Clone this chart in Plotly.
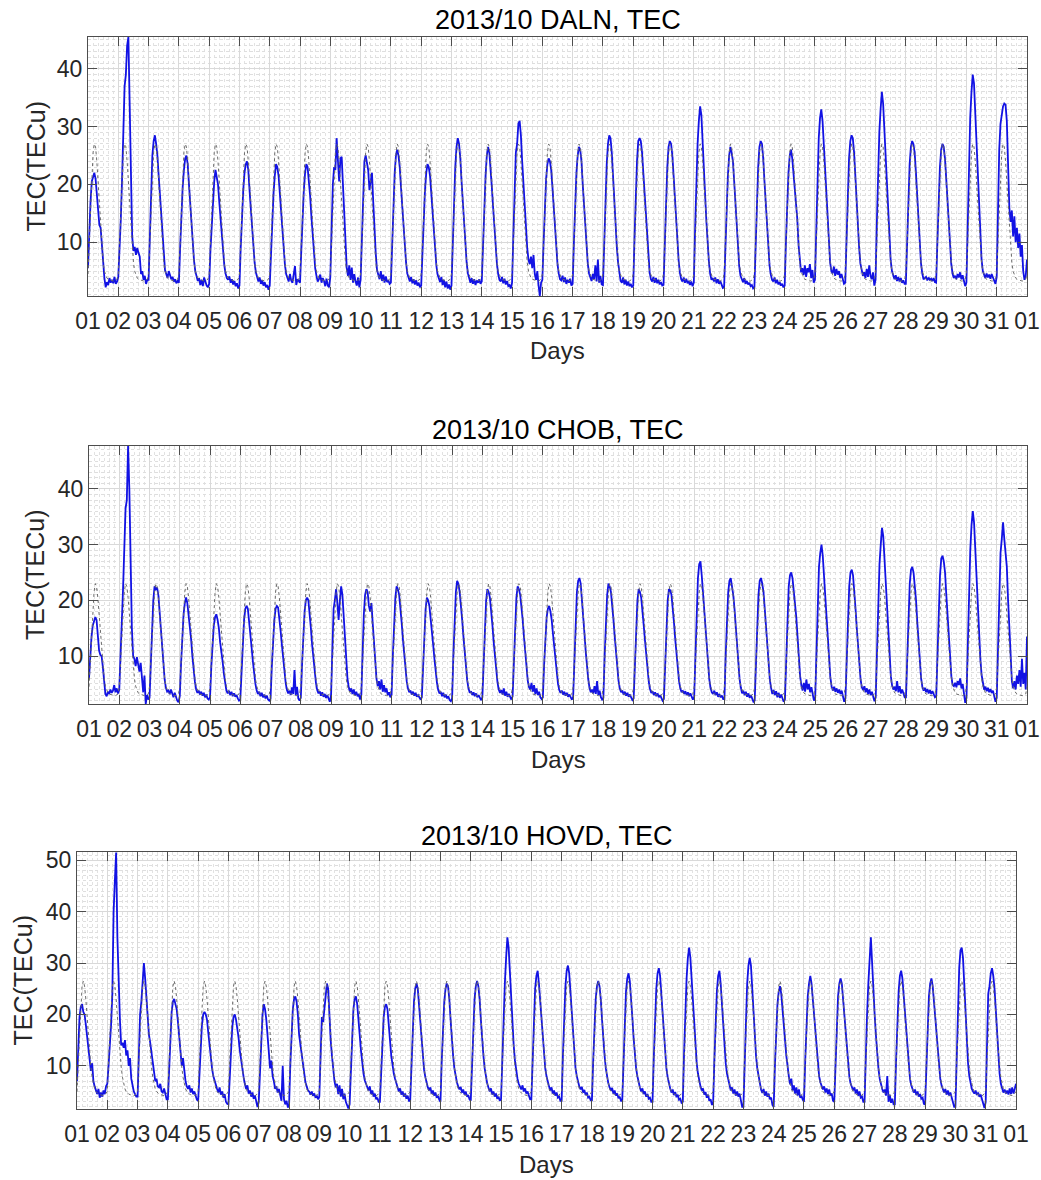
import plotly.graph_objects as go

# ---------------- data (hourly values) ----------------
TICK_LABELS = ["01", "02", "03", "04", "05", "06", "07", "08", "09", "10",
               "11", "12", "13", "14", "15", "16", "17", "18", "19", "20",
               "21", "22", "23", "24", "25", "26", "27", "28", "29", "30",
               "31", "01"]
TICK_POS = list(range(1, 33))

DALN_TEC = [
    [5.5, 12, 17, 20.5, 21.5, 22, 21, 18, 14.5, 13, 12.5, 9, 5.5, 3.8, 2.2, 3.1, 2.6, 3.8, 3.0, 3.5, 2.9, 4.0, 2.8, 3.2],
    [4, 8, 14, 21, 29, 37, 39, 44, 45.5, 32, 19, 11, 8.5, 9.2, 7.8, 9.0, 8.2, 7.5, 4.5, 5.0, 3.5, 4.2, 2.8, 3.5],
    [3.5, 11, 19, 25, 27.5, 28.5, 27, 25, 21.5, 18, 14, 10.5, 7.5, 5.2, 4.5, 3.8, 5.0, 4.2, 3.6, 4.0, 3.2, 3.6, 2.9, 3.3],
    [3.0, 9, 15, 19.5, 22.5, 24.5, 25, 23.5, 20, 16.5, 12.5, 9.5, 6.8, 5.0, 4.0, 3.3, 3.8, 2.6, 3.5, 2.4, 3.9, 3.0, 2.5, 2.2],
    [2.8, 8.5, 13.5, 17.5, 20.5, 22.5, 21.5, 20, 17, 14, 11, 8.2, 6, 4.6, 3.8, 3.5, 4.1, 3.0, 3.6, 2.7, 3.3, 2.4, 2.9, 2.0],
    [2.5, 9, 14.5, 19, 22, 23.5, 24, 22.5, 19, 15.5, 12, 9, 6.5, 4.8, 3.8, 3.2, 3.9, 2.8, 3.4, 2.5, 3.1, 2.2, 2.6, 1.8],
    [2.5, 8.5, 14, 18.5, 21.5, 23.5, 23, 21.5, 18.5, 15, 11.5, 8.5, 6.2, 4.5, 3.6, 3.2, 4.5, 3.4, 3.0, 4.2, 5.9, 2.6, 3.6, 3.3],
    [3.0, 8.5, 14.5, 19, 22, 23.5, 23, 21, 18, 14.5, 11, 8, 5.5, 4.2, 3.2, 3.6, 4.4, 3.0, 3.8, 3.3, 2.4, 3.7, 2.5, 2.2],
    [4, 12, 20, 23, 22.5, 28, 25, 20.5, 24.5, 24.8, 20, 14, 9, 5.5, 4.2, 6.0, 3.5, 5.6, 3.0, 4.5, 3.2, 2.5, 3.9, 2.2],
    [3.5, 12, 19, 24, 25, 24, 22.5, 19, 21, 22, 17, 12, 8, 5.2, 4.4, 3.6, 5.0, 3.3, 4.4, 3.0, 4.1, 3.1, 3.4, 2.8],
    [3.0, 10, 17, 22, 25, 26, 25, 23, 19.5, 16, 12.5, 9, 6.5, 4.6, 3.7, 3.2, 4.0, 2.9, 3.6, 2.7, 3.4, 2.5, 3.0, 2.2],
    [2.5, 8.5, 14.5, 19, 22, 23.5, 23, 21.5, 18.5, 15, 11.5, 8.5, 6, 4.4, 3.6, 3.1, 4.0, 2.6, 3.5, 2.2, 3.2, 2.0, 2.7, 1.8],
    [2.5, 10, 17.5, 23, 26.5, 28, 27, 24.5, 20.5, 16.5, 12.5, 9, 6.5, 4.6, 3.5, 3.0, 3.8, 2.8, 3.6, 2.6, 3.4, 3.0, 3.6, 2.8],
    [3.2, 10, 16.5, 21.5, 25, 26.5, 25.5, 23, 19.5, 16, 12, 8.8, 6.3, 4.5, 3.5, 3.2, 4.0, 2.9, 3.7, 2.7, 3.3, 2.4, 2.6, 2.0],
    [3.0, 11, 19, 25.5, 27, 30.5, 31, 28.5, 24, 20, 18, 13, 9, 7.0, 6.2, 7.5, 5.5, 7.8, 4.5, 3.5, 5.0, 2.5, 0.7, 3.0],
    [3.5, 10, 16, 21, 23.5, 24.5, 24, 22.5, 19.5, 16, 12, 8.8, 6.2, 4.6, 3.6, 3.4, 4.2, 3.1, 3.9, 2.8, 3.5, 3.0, 3.7, 2.5],
    [2.8, 10, 17, 22, 25, 26.5, 26, 24, 20, 16.5, 12.5, 9, 6.3, 4.6, 3.7, 3.3, 4.5, 3.6, 6.0, 3.2, 7.0, 3.0, 4.2, 2.7],
    [2.6, 10.5, 18, 23.5, 27, 28.5, 28, 25.5, 21.5, 17, 13, 9.2, 6.5, 4.5, 3.3, 3.0, 3.9, 2.7, 3.5, 2.5, 3.2, 2.4, 2.8, 2.2],
    [2.5, 10.5, 18.5, 24, 27.5, 28, 27.5, 25.5, 22, 18.5, 14, 10, 7, 4.8, 3.6, 3.2, 4.0, 3.0, 3.8, 2.9, 3.5, 2.7, 3.1, 2.5],
    [2.6, 10, 17.5, 23, 26.5, 27.5, 27, 25, 21.5, 17.5, 13.5, 9.5, 6.8, 4.7, 3.6, 3.2, 3.9, 3.0, 3.7, 2.9, 3.3, 2.6, 3.2, 2.4],
    [3.0, 12, 21, 27, 31, 33.5, 32, 28, 23, 18, 13.5, 9.5, 6.5, 4.5, 3.5, 3.8, 3.2, 3.9, 2.9, 3.6, 2.8, 3.3, 2.5, 2.1],
    [2.2, 9.5, 16.5, 21.5, 25, 26.5, 25.5, 24, 20.5, 16.5, 12, 8.5, 5.8, 4.2, 3.6, 3.1, 3.8, 2.8, 3.3, 2.7, 3.0, 2.4, 2.6, 2.0],
    [2.2, 10, 17.5, 23, 26.5, 27.5, 27, 24.5, 20.5, 16.5, 12.5, 8.8, 6.0, 4.4, 3.5, 3.2, 3.9, 2.9, 3.5, 2.7, 3.1, 2.5, 2.8, 2.2],
    [2.5, 10, 17, 22, 25, 26, 24.5, 22, 19, 17, 14, 9.5, 6.5, 4.8, 5.5, 4.3, 6.0, 4.0, 5.5, 4.8, 6.2, 3.8, 5.2, 3.0],
    [3.5, 13, 22, 28, 31.5, 33, 31, 27, 22.5, 18, 13.5, 9.5, 6.5, 5.0, 4.6, 5.8, 4.2, 5.4, 4.4, 5.0, 3.8, 4.5, 3.4, 2.8],
    [3.0, 11, 19, 24.5, 27.5, 28.5, 28, 25.5, 21.5, 17, 13, 9, 6.3, 4.8, 4.2, 4.8, 3.8, 5.4, 4.0, 6.0, 4.2, 3.6, 4.8, 2.5],
    [3.5, 13, 23, 29, 33, 36, 34, 29.5, 24, 19, 14, 9.8, 6.8, 5.0, 4.0, 3.6, 4.3, 3.3, 4.0, 3.2, 3.8, 3.0, 3.4, 2.8],
    [2.8, 10.5, 18, 23.5, 26.5, 27.5, 27, 25.5, 22, 18, 13.5, 9.3, 6.4, 4.6, 3.6, 3.8, 4.0, 3.4, 3.9, 3.5, 3.7, 3.3, 3.8, 3.1],
    [3.0, 10, 17.5, 23, 26, 27, 26.5, 24.5, 21, 17, 13, 9, 6.2, 4.6, 3.8, 4.2, 3.6, 4.5, 3.9, 4.8, 3.6, 4.3, 3.2, 2.4],
    [3.0, 13, 24, 31.5, 36, 39, 37.5, 32, 26, 20.5, 15, 10.5, 7, 5.0, 4.2, 3.8, 4.6, 3.9, 4.4, 3.7, 4.5, 4.0, 3.5, 2.8],
    [4, 15, 26, 30.5, 32.5, 33.5, 34, 33.8, 31, 24, 16, 13.5, 15.5, 11, 14.5, 10, 12.5, 9, 11.5, 7.5, 9.5, 5, 3.5, 4.2],
]
DALN_END = 7.0
DALN_REF_DAY = [4.5, 10, 16, 21.5, 25.5, 27, 26.5, 24, 20.5, 16.5, 12.5, 9, 6.5, 5, 4.2, 3.8, 3.6, 3.5, 3.4, 3.4, 3.3, 3.3, 3.4, 3.6]

CHOB_TEC = [
    [6, 10, 13.5, 15.5, 16.5, 17, 16.5, 14, 11, 10.2, 10, 8, 5, 3.2, 2.8, 3.6, 3.2, 4.0, 3.4, 3.8, 4.8, 3.5, 4.2, 3.3],
    [4, 9, 16, 22, 28, 36.5, 38, 47.7, 40, 27, 15, 10, 9.5, 8.2, 9.8, 8.5, 7.2, 8.8, 5.5, 3.5, 6.5, 1.4, 3.0, 2.2],
    [2.5, 9, 15.5, 20, 22.5, 22, 22.3, 21, 18, 14.5, 11, 8.2, 5.8, 4.3, 3.6, 3.8, 3.2, 4.0, 3.0, 2.6, 3.4, 2.4, 2.0, 1.7],
    [2.8, 8.5, 13.5, 17.5, 19.5, 20.5, 19.5, 17.5, 16, 13, 10, 7.5, 5.4, 4.0, 3.4, 3.8, 3.1, 3.6, 2.9, 3.4, 2.6, 3.1, 2.4, 2.2],
    [2.6, 8, 12.5, 15.5, 17, 17.5, 16.5, 15, 12.5, 11, 9, 6.8, 5.0, 3.8, 3.3, 3.8, 3.0, 3.6, 2.8, 3.3, 2.7, 3.0, 2.4, 2.0],
    [2.2, 8, 13, 16.5, 18.5, 19, 18.5, 16.5, 14, 11.5, 9, 6.8, 5.0, 3.8, 3.2, 3.6, 2.8, 3.4, 2.6, 3.1, 2.4, 2.9, 2.2, 2.0],
    [2.3, 8, 13, 16.5, 18.5, 19, 18.7, 17, 14.5, 12, 9.3, 7, 5.2, 3.9, 3.3, 3.8, 3.0, 4.4, 3.2, 7.5, 3.0, 4.5, 2.4, 2.0],
    [2.5, 8.5, 14, 18, 20, 20.5, 20, 18, 15, 12, 9.5, 7, 5.2, 3.9, 3.3, 3.7, 2.9, 3.5, 2.7, 3.2, 2.5, 3.0, 2.2, 1.8],
    [3, 12, 18.5, 20, 22, 19.5, 16.5, 20, 22.5, 21, 17, 13, 9, 6, 4.4, 3.6, 4.2, 3.2, 4.0, 3.0, 3.6, 2.8, 3.2, 2.2],
    [3, 11, 17.5, 21, 22, 21.5, 19, 18, 19.5, 16, 12, 8.5, 6, 4.6, 5.5, 4.0, 5.8, 3.6, 4.8, 3.5, 4.2, 3.0, 3.5, 2.6],
    [3, 10, 16.5, 20.5, 22.5, 22, 21, 19, 16, 13, 10, 7.5, 5.5, 4.2, 3.5, 3.8, 3.1, 3.6, 2.9, 3.4, 2.7, 3.0, 2.5, 2.2],
    [2.6, 9, 14.5, 18.5, 20.5, 20, 19, 17, 14.5, 12, 9.5, 7, 5.2, 3.9, 3.3, 3.6, 2.8, 3.4, 2.6, 3.1, 2.4, 2.8, 2.1, 1.9],
    [2.4, 10, 17, 21.5, 23.5, 23, 21.5, 19.5, 16.5, 13.5, 10.5, 7.8, 5.6, 4.2, 3.4, 3.7, 3.0, 3.5, 2.8, 3.3, 2.6, 3.0, 2.4, 2.1],
    [2.6, 9.5, 16, 20, 22, 21.5, 20.5, 18.5, 15.5, 12.5, 9.8, 7.2, 5.3, 4.0, 3.4, 3.9, 3.1, 4.2, 2.9, 3.6, 2.7, 3.2, 2.5, 2.2],
    [2.8, 10, 16.5, 20.5, 22.5, 22, 21, 19, 16.5, 13.5, 10.5, 7.6, 5.6, 4.4, 4.0, 5.2, 3.6, 4.8, 3.2, 4.2, 3.0, 3.6, 2.6, 2.3],
    [2.6, 8.5, 14, 17, 18.5, 19, 18, 16.5, 14, 11.5, 9, 6.8, 5.0, 3.9, 3.4, 3.8, 3.1, 3.6, 2.9, 3.4, 2.7, 3.1, 2.5, 2.2],
    [2.6, 10, 17, 21.5, 23.5, 24, 23, 20.5, 17, 14, 10.8, 8, 5.8, 4.3, 3.5, 4.0, 3.3, 4.6, 3.2, 5.5, 3.0, 3.8, 2.6, 2.2],
    [2.5, 10, 16.5, 21, 23, 22.5, 21.5, 19.5, 16.5, 13.5, 10.5, 7.7, 5.6, 4.2, 3.5, 3.8, 3.1, 3.6, 2.9, 3.4, 2.7, 3.1, 2.5, 2.1],
    [2.4, 9.5, 16, 20, 22, 21.5, 20.5, 18.5, 15.5, 12.8, 10, 7.4, 5.4, 4.1, 3.4, 3.7, 3.0, 3.5, 2.8, 3.3, 2.6, 3.0, 2.4, 2.0],
    [2.3, 9.5, 16, 20, 22, 21.8, 21, 19, 16, 13, 10.2, 7.5, 5.5, 4.2, 3.5, 3.8, 3.2, 3.7, 3.0, 3.5, 2.8, 3.3, 2.6, 2.2],
    [2.6, 11, 19, 24, 26.5, 27, 24.5, 21.5, 18, 14.5, 11, 8, 5.8, 4.3, 3.5, 3.2, 3.8, 3.0, 3.5, 2.7, 3.2, 2.6, 2.9, 2.3],
    [2.3, 10, 17, 21.5, 23.5, 24, 22.5, 21, 18.5, 15, 11.5, 8.3, 5.9, 4.4, 3.3, 3.8, 3.0, 3.6, 2.7, 3.3, 2.5, 3.0, 2.2, 1.8],
    [2.0, 9.5, 16.5, 21, 23.5, 24, 23, 21.5, 18.5, 15, 11.5, 8.3, 5.8, 4.3, 3.2, 3.9, 3.0, 3.7, 2.6, 3.4, 2.5, 3.1, 2.2, 1.8],
    [2.2, 10, 17.5, 22.5, 24.5, 25, 24, 22, 19, 17, 13.5, 9.5, 6.5, 4.8, 3.8, 5.2, 3.6, 5.8, 4.0, 5.0, 3.5, 4.4, 3.0, 2.0],
    [2.5, 12, 20.5, 26, 28.5, 30, 28, 24.5, 20.5, 16.5, 12.5, 9, 6.2, 4.6, 3.8, 4.5, 3.6, 4.2, 3.4, 4.0, 3.2, 3.8, 2.8, 1.8],
    [2.4, 10.5, 18, 22.5, 25, 25.5, 24.5, 22, 18.5, 15, 11.5, 8.3, 5.8, 4.4, 3.9, 4.6, 3.5, 4.2, 3.2, 4.0, 3.0, 3.6, 2.5, 1.9],
    [2.6, 12, 21, 26.5, 30, 33, 31.5, 27, 22, 17.5, 13, 9.2, 6.4, 4.7, 4.0, 4.5, 3.7, 5.5, 3.5, 4.6, 3.3, 4.0, 3.0, 2.6],
    [2.6, 10.5, 18, 23, 25.5, 26, 25, 23, 20, 16, 12, 8.6, 6, 4.5, 3.8, 4.3, 3.5, 4.1, 3.3, 3.9, 3.2, 3.7, 3.0, 2.6],
    [2.8, 11.5, 19.5, 24.5, 27.5, 28, 27, 25, 21, 17, 13, 9.2, 6.4, 4.8, 4.6, 5.2, 4.4, 5.5, 4.8, 6.0, 4.2, 5.0, 3.0, 1.6],
    [2.5, 12.5, 22.5, 29, 33.5, 36, 34, 29, 23.5, 18.5, 13.5, 9.5, 6.6, 4.8, 4.0, 4.5, 3.7, 4.3, 3.5, 4.1, 3.4, 3.8, 2.6, 1.8],
    [2.5, 13, 24, 28.5, 31, 34, 31, 28, 26, 20, 14, 9, 5.5, 4.2, 5.5, 4.0, 6.5, 5.0, 7.5, 4.5, 9.5, 5.0, 7.0, 4.0],
]
CHOB_END = 13.5
CHOB_REF_DAY = [4.5, 9, 14, 18.5, 21.5, 23, 22.5, 20.5, 17.5, 14.5, 11, 8.2, 6, 4.6, 3.8, 3.4, 3.2, 3.1, 3.0, 3.0, 2.9, 2.9, 3.0, 3.2]

HOVD_TEC = [
    [7, 14, 19.5, 21.5, 22, 20.5, 20, 18, 15.5, 13, 11, 9, 10.5, 7, 6, 5.2, 4.5, 5.5, 3.8, 4.8, 4.0, 5.2, 4.5, 6.0],
    [6.5, 10, 13.5, 18, 24, 40, 46, 51.5, 35, 24, 19, 14, 14.5, 13.5, 15, 12, 13, 10, 11.5, 7.5, 6, 5, 4.5, 4.0],
    [4, 12, 20, 22.5, 27, 30, 27, 23, 19.5, 16, 14.5, 12.5, 10, 8, 7, 7.5, 6, 5.8, 6.5, 5, 4.8, 5.6, 4.2, 3.5],
    [3.5, 10, 16.5, 20.5, 22.5, 23, 22, 21, 18.5, 15.5, 12.5, 10, 11.5, 8.5, 7, 6, 5.5, 6.2, 4.8, 5.6, 4.5, 5.0, 4.0, 3.4],
    [3.2, 9, 14.5, 18, 20, 20.5, 20, 19, 16.5, 14, 11.5, 9.5, 8, 7, 6.2, 5.5, 4.8, 5.8, 4.4, 5.0, 3.8, 4.5, 3.0, 2.6],
    [2.5, 8.5, 14, 17.5, 19.5, 20, 19, 17.5, 15.5, 13, 11, 9, 7.8, 6.5, 5.5, 6.2, 4.6, 5.2, 4.0, 4.8, 3.6, 4.2, 3.0, 2.0],
    [3.0, 10, 16, 20, 22, 21, 19, 16, 12, 9.5, 11, 8, 7, 5.5, 6, 4.8, 5.5, 4.5, 3.2, 10, 3.5, 2.5, 3.2, 2.0],
    [2.0, 10, 17, 21, 23, 23.5, 22.5, 20, 16, 14, 12, 10, 8, 6.8, 6, 5.2, 5.0, 4.4, 5.0, 4.2, 4.6, 3.8, 4.2, 3.5],
    [4, 13, 19.5, 18.5, 21, 24, 26, 25, 18, 15, 12, 8.5, 7, 5.8, 6.5, 4.5, 6.2, 4.0, 5.5, 3.5, 4.6, 3.0, 2.2, 1.7],
    [2.5, 10, 16.5, 21, 23, 23.5, 22, 19.5, 16, 13, 10.5, 8.5, 7.2, 6.4, 5.8, 5.2, 6, 4.5, 5.2, 4.0, 4.6, 3.5, 3.8, 3.0],
    [3.0, 9.5, 15.5, 19.5, 21.5, 22, 21, 18.5, 15, 12, 10, 8.5, 7.5, 6.5, 5.8, 5.0, 5.6, 4.4, 5.0, 4.0, 4.6, 3.6, 4.2, 3.2],
    [3.2, 11, 18, 22.5, 25, 26, 25, 22, 18, 14.5, 11.5, 9.2, 7.8, 6.5, 5.8, 5.2, 5.8, 4.6, 5.2, 4.2, 4.8, 3.8, 4.2, 3.4],
    [3.0, 11, 18, 22.5, 25, 26, 25.5, 23, 19, 15, 12, 9.5, 8, 6.8, 6, 5.4, 5.9, 4.8, 5.4, 4.4, 5.0, 4.0, 4.3, 3.5],
    [3.2, 11, 18.5, 23, 25.5, 26.5, 25.5, 23, 19, 15, 12, 9.5, 7.8, 6.6, 5.8, 5.0, 5.6, 4.4, 5.0, 4.0, 4.6, 3.6, 4.0, 3.2],
    [3.5, 12, 20, 26, 31, 35, 33, 28, 23, 18, 14, 11, 9, 7.5, 6.5, 6.0, 5.4, 6.2, 5.0, 5.6, 4.6, 5.0, 4.0, 3.5],
    [3.5, 12, 20, 25, 27.5, 28.5, 26, 22.5, 18.5, 15, 12, 9.5, 8, 6.8, 6, 5.2, 5.8, 4.6, 5.2, 4.2, 4.8, 3.8, 4.0, 3.2],
    [3.2, 12, 20, 25.5, 28.5, 29.5, 28, 24, 19.5, 15.5, 12, 9.5, 8, 6.8, 6, 5.4, 5.9, 4.8, 5.3, 4.3, 4.8, 3.8, 4.0, 3.3],
    [3.3, 11, 18.5, 23, 25.5, 26.5, 25.5, 23, 19, 15, 12, 9.5, 7.8, 6.6, 5.8, 5.2, 5.7, 4.6, 5.2, 4.2, 4.6, 3.7, 4.0, 3.2],
    [3.2, 11.5, 19.5, 24.5, 27, 28, 26.5, 23.5, 19.5, 15.5, 12, 9.5, 8, 6.6, 5.8, 5.0, 5.6, 4.5, 5.0, 4.0, 4.5, 3.6, 3.8, 3.0],
    [3.0, 11.5, 19.5, 25, 28, 29, 27.5, 24, 19.5, 15.5, 12, 9.5, 7.8, 6.5, 5.6, 4.8, 5.4, 4.3, 4.9, 3.9, 4.4, 3.4, 3.6, 2.8],
    [3.0, 12.5, 21, 27, 31, 33, 31, 27, 22, 17.5, 13.5, 10.5, 8.5, 7, 6, 5.2, 5.6, 4.4, 4.9, 3.8, 4.4, 3.2, 3.5, 2.5],
    [2.5, 11, 19, 24.5, 27.5, 28.5, 26, 21.5, 17, 13.5, 10.5, 8.5, 7.5, 6, 5.2, 5.8, 4.6, 5.4, 4.2, 5.0, 4.0, 4.6, 3.4, 2.0],
    [2.0, 11.5, 20, 26, 29.5, 31, 29.5, 25, 20, 15.5, 12, 9.5, 8, 6.4, 5.4, 4.7, 5.5, 4.2, 5.0, 4.0, 4.6, 3.5, 3.8, 2.4],
    [2.0, 10, 17, 22, 24.5, 25.5, 24, 21.5, 18, 15, 12, 9.5, 8, 6.4, 7.5, 5.2, 6.2, 4.6, 5.8, 4.2, 5.4, 3.8, 4.2, 3.4],
    [3.0, 11, 18.5, 23.5, 26, 27.5, 26, 23, 19.5, 17, 13, 10, 8, 6.8, 6, 5.4, 6.0, 4.8, 5.6, 4.5, 5.4, 4.2, 4.6, 3.2],
    [3.0, 11, 18.5, 23.5, 26, 27, 26, 23, 19, 16.5, 12.5, 9.6, 7.8, 6.5, 5.8, 5.2, 5.8, 4.6, 5.4, 4.2, 5.0, 3.8, 4.0, 3.0],
    [3.0, 13, 20, 26, 32, 35, 30, 24, 20, 16, 12, 9.5, 7.5, 6.2, 5.5, 4.8, 5.4, 4.2, 8.0, 3.0, 4.4, 2.8, 3.6, 2.5],
    [2.5, 11, 19, 24.5, 27.5, 28.5, 27, 23.5, 19.5, 16, 12.5, 9.5, 7.5, 6.2, 5.4, 4.8, 5.4, 4.3, 5.0, 4.0, 4.5, 3.6, 3.8, 2.6],
    [2.5, 10.5, 18, 23.5, 26, 27, 25.5, 22.5, 19, 16, 12.5, 9.5, 7.5, 6.2, 5.5, 4.8, 5.5, 4.4, 5.2, 4.2, 4.8, 3.8, 3.0, 2.0],
    [2.0, 13, 22, 29, 32.5, 33, 31, 26, 20, 14.5, 10.5, 8, 6.5, 5.5, 5.0, 4.6, 5.2, 4.3, 4.8, 4.0, 4.4, 3.5, 2.8, 1.8],
    [3.0, 14, 24, 25.5, 28, 29, 27.5, 25, 20.5, 15.5, 11.5, 8.5, 6.5, 5.5, 4.8, 5.4, 4.6, 5.2, 4.4, 5.6, 4.5, 5.8, 4.6, 5.5],
]
HOVD_END = 6.5
HOVD_REF_DAY = [5, 11, 17, 22, 25.5, 26.5, 25.5, 23, 19.5, 16, 12.5, 9.8, 7.8, 6.4, 5.5, 5.0, 4.7, 4.5, 4.4, 4.3, 4.2, 4.2, 4.3, 4.6]

STATIONS = ["DALN", "CHOB", "HOVD"]
Y_TICKS = [[10, 20, 30, 40], [10, 20, 30, 40], [10, 20, 30, 40, 50]]
Y_RANGES = [[0.7, 45.5], [1.4, 47.7], [1.6, 51.6]]

# ---------------- build series ----------------
for days in (DALN_TEC, CHOB_TEC, HOVD_TEC):
    assert len(days) == 31 and all(len(d) == 24 for d in days)

X_TIME = [d + h / 24 for d in range(1, 32) for h in range(24)] + [32.0]


def obs_series(days, end):
    return [v for day in days for v in day] + [end]


def ref_series(profile):
    return profile * 31 + [profile[0]]


OBS = [obs_series(DALN_TEC, DALN_END), obs_series(CHOB_TEC, CHOB_END), obs_series(HOVD_TEC, HOVD_END)]
REF = [ref_series(DALN_REF_DAY), ref_series(CHOB_REF_DAY), ref_series(HOVD_REF_DAY)]

# ---------------- layout geometry (pixels) ----------------
W, H = 1041, 1180
FONT = "Liberation Sans, Arial, Helvetica, sans-serif"
PLOT_PX = [  # left, right, top, bottom
    (88, 1027, 37, 296),
    (89, 1027, 446, 704),
    (77, 1016, 852, 1109),
]
TITLE_Y = [20, 430, 836]
XLABEL_Y = [351, 760, 1164]
YLABEL_X = [35, 35, 22]

BLUE = "rgb(18,18,228)"
REFC = "#6a6a6a"
AXC = "#4d4d4d"

fig = go.Figure()
annotations = []
layout = dict(
    width=W, height=H, autosize=False,
    margin=dict(l=0, r=0, t=0, b=0, pad=0),
    paper_bgcolor="white", plot_bgcolor="white",
    showlegend=False,
    font=dict(family=FONT, color="#262626"),
)

for i, st in enumerate(STATIONS):
    xa = "x" if i == 0 else f"x{i + 1}"
    ya = "y" if i == 0 else f"y{i + 1}"
    xkey = "xaxis" if i == 0 else f"xaxis{i + 1}"
    ykey = "yaxis" if i == 0 else f"yaxis{i + 1}"
    l, r, t, b = PLOT_PX[i]

    fig.add_trace(go.Scatter(x=X_TIME, y=OBS[i], mode="lines", xaxis=xa, yaxis=ya,
                             line=dict(color=BLUE, width=1.8), hoverinfo="skip"))
    fig.add_trace(go.Scatter(x=X_TIME, y=REF[i], mode="lines", xaxis=xa, yaxis=ya,
                             line=dict(color=REFC, width=1, dash="dot"), hoverinfo="skip"))

    layout[xkey] = dict(
        domain=[l / W, r / W], anchor=ya, range=[1, 32], automargin=False,
        tickmode="array", tickvals=TICK_POS, ticktext=TICK_LABELS,
        ticks="inside", ticklen=9, tickwidth=1, tickcolor=AXC,
        showline=True, linecolor=AXC, linewidth=1, mirror="ticks",
        showgrid=True, gridcolor="#d9d9d9", gridwidth=1, zeroline=False,
        ticklabelstandoff=4,
        tickfont=dict(family=FONT, size=23, color="#262626"),
        minor=dict(tick0=1, dtick=1 / 6, showgrid=True, gridcolor="#e2e2e2",
                   griddash="dot", gridwidth=1),
    )
    layout[ykey] = dict(
        domain=[1 - b / H, 1 - t / H], anchor=xa, range=Y_RANGES[i], automargin=False,
        tickmode="array", tickvals=Y_TICKS[i],
        ticks="inside", ticklen=9, tickwidth=1, tickcolor=AXC,
        showline=True, linecolor=AXC, linewidth=1, mirror="ticks",
        showgrid=True, gridcolor="#d9d9d9", gridwidth=1, zeroline=False,
        tickfont=dict(family=FONT, size=23, color="#262626"),
        minor=dict(tick0=0, dtick=1, showgrid=True, gridcolor="#dedede",
                   griddash="dot", gridwidth=1),
    )

    annotations.append(dict(text=f"2013/10 {st}, TEC", xref="paper", yref="paper",
                            x=(l + r) / 2 / W, y=1 - TITLE_Y[i] / H, xanchor="center", yanchor="middle",
                            showarrow=False, font=dict(family=FONT, size=27, color="#000000")))
    annotations.append(dict(text="Days", xref="paper", yref="paper",
                            x=(l + r) / 2 / W, y=1 - XLABEL_Y[i] / H, xanchor="center", yanchor="middle",
                            showarrow=False, font=dict(family=FONT, size=24, color="#262626")))
    annotations.append(dict(text="TEC(TECu)", xref="paper", yref="paper", textangle=-90,
                            x=YLABEL_X[i] / W, y=1 - (t + b) / 2 / H, xanchor="center", yanchor="middle",
                            showarrow=False, font=dict(family=FONT, size=25, color="#262626")))

layout["annotations"] = annotations
fig.update_layout(**layout)
fig.write_html("out.html")
